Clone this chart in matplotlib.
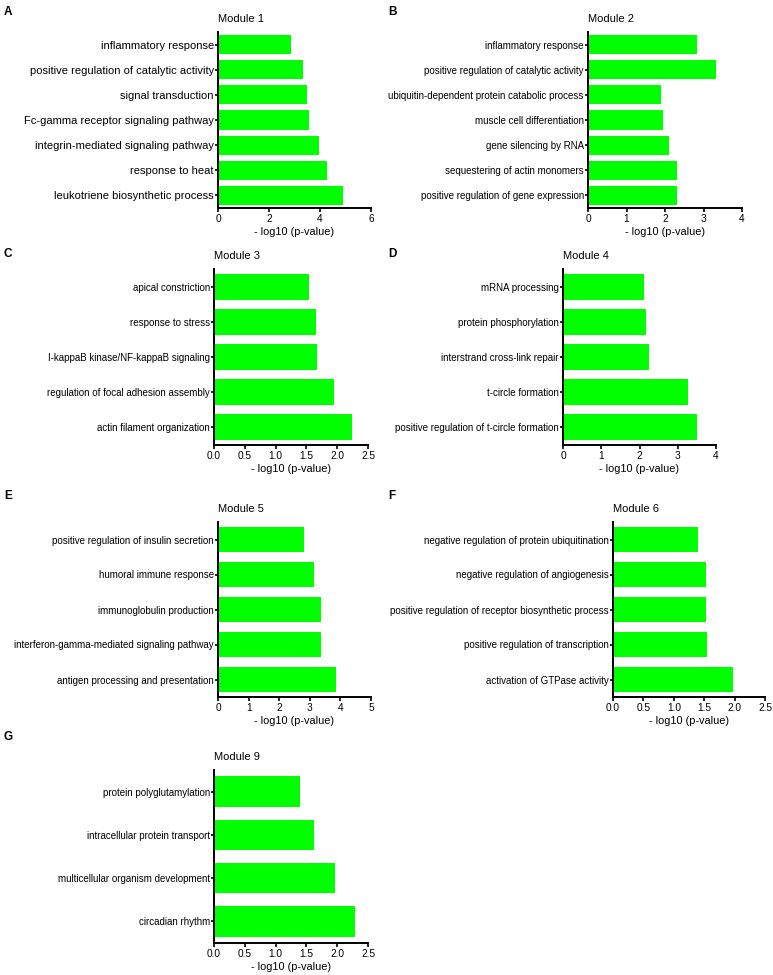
import matplotlib
matplotlib.use("Agg")
import matplotlib.pyplot as plt

plt.rcParams['font.family'] = ['Liberation Sans', 'DejaVu Sans']

# module 1
m1_terms = ["inflammatory response", "positive regulation of catalytic activity",
            "signal transduction", "Fc-gamma receptor signaling pathway",
            "integrin-mediated signaling pathway", "response to heat",
            "leukotriene biosynthetic process"]
m1_vals = [2.85, 3.32, 3.50, 3.56, 3.95, 4.26, 4.89]

# module 2
m2_terms = ["inflammatory response", "positive regulation of catalytic activity",
            "ubiquitin-dependent protein catabolic process", "muscle cell differentiation",
            "gene silencing by RNA", "sequestering of actin monomers",
            "positive regulation of gene expression"]
m2_vals = [2.83, 3.32, 1.90, 1.96, 2.11, 2.31, 2.31]

# module 3
m3_terms = ["apical constriction", "response to stress",
            "I-kappaB kinase/NF-kappaB signaling", "regulation of focal adhesion assembly",
            "actin filament organization"]
m3_vals = [1.54, 1.65, 1.68, 1.94, 2.24]

# module 4
m4_terms = ["mRNA processing", "protein phosphorylation", "interstrand cross-link repair",
            "t-circle formation", "positive regulation of t-circle formation"]
m4_vals = [2.11, 2.17, 2.24, 3.28, 3.51]

# module 5
m5_terms = ["positive regulation of insulin secretion", "humoral immune response",
            "immunoglobulin production", "interferon-gamma-mediated signaling pathway",
            "antigen processing and presentation"]
m5_vals = [2.81, 3.13, 3.36, 3.37, 3.87]

# module 6
m6_terms = ["negative regulation of protein ubiquitination", "negative regulation of angiogenesis",
            "positive regulation of receptor biosynthetic process",
            "positive regulation of transcription", "activation of GTPase activity"]
m6_vals = [1.39, 1.53, 1.53, 1.54, 1.98]

# module 9
m9_terms = ["protein polyglutamylation", "intracellular protein transport",
            "multicellular organism development", "circadian rhythm"]
m9_vals = [1.40, 1.62, 1.97, 2.29]

W, H = 773, 975
fig = plt.figure(figsize=(W / 100, H / 100), dpi=100)


def panel(letter, lx, ly, title, terms, vals, box, xmax, xticks, xticklabels,
          lab_fs, bar_h):
    left, right, top, bottom = box
    ax = fig.add_axes([left / W, 1 - bottom / H, (right - left) / W, (bottom - top) / H])
    n = len(terms)
    ys = list(range(n))
    ax.barh(ys, vals, height=bar_h, color="#00ff00", edgecolor="none")
    ax.set_ylim(n - 0.5, -0.5)
    ax.set_xlim(0, xmax)
    ax.set_yticks(ys)
    ax.set_yticklabels(terms, fontsize=lab_fs)
    ax.set_xticks(xticks)
    ax.set_xticklabels(xticklabels, fontsize=7.3)
    ax.set_xlabel("- log10 (p-value)", fontsize=7.9, labelpad=2)
    ax.set_title(title, fontsize=8, loc="left", pad=7)
    for s in ["top", "right"]:
        ax.spines[s].set_visible(False)
    for s in ["left", "bottom"]:
        ax.spines[s].set_linewidth(1.4)
    ax.tick_params(axis="y", length=2, width=1.2, pad=1)
    ax.tick_params(axis="x", length=3, width=1.2, pad=1.5)
    fig.text(lx / W, 1 - ly / H, letter, fontsize=8.5, fontweight="bold",
             ha="left", va="center")
    return ax


panel("A", 4, 12, "Module 1", m1_terms, m1_vals, (218, 371, 32, 208), 6,
      [0, 2, 4, 6], ["0", "2", "4", "6"], 8, 0.76)
panel("B", 388, 12, "Module 2", m2_terms, m2_vals, (588, 742, 32, 208), 4,
      [0, 1, 2, 3, 4], ["0", "1", "2", "3", "4"], 7, 0.76)
panel("C", 4, 254, "Module 3", m3_terms, m3_vals, (214, 368, 269, 445), 2.5,
      [0, 0.5, 1, 1.5, 2, 2.5], ["0.0", "0.5", "1.0", "1.5", "2.0", "2.5"], 7, 0.74)
panel("D", 388, 254, "Module 4", m4_terms, m4_vals, (563, 716, 269, 445), 4,
      [0, 1, 2, 3, 4], ["0", "1", "2", "3", "4"], 7, 0.74)
panel("E", 4, 496, "Module 5", m5_terms, m5_vals, (218, 371, 522, 697), 5,
      [0, 1, 2, 3, 4, 5], ["0", "1", "2", "3", "4", "5"], 7, 0.74)
panel("F", 388, 496, "Module 6", m6_terms, m6_vals, (613, 765, 522, 697), 2.5,
      [0, 0.5, 1, 1.5, 2, 2.5], ["0.0", "0.5", "1.0", "1.5", "2.0", "2.5"], 7, 0.74)
panel("G", 4, 737, "Module 9", m9_terms, m9_vals, (214, 368, 770, 943), 2.5,
      [0, 0.5, 1, 1.5, 2, 2.5], ["0.0", "0.5", "1.0", "1.5", "2.0", "2.5"], 7, 0.70)

fig.savefig("out.png", dpi=100)
